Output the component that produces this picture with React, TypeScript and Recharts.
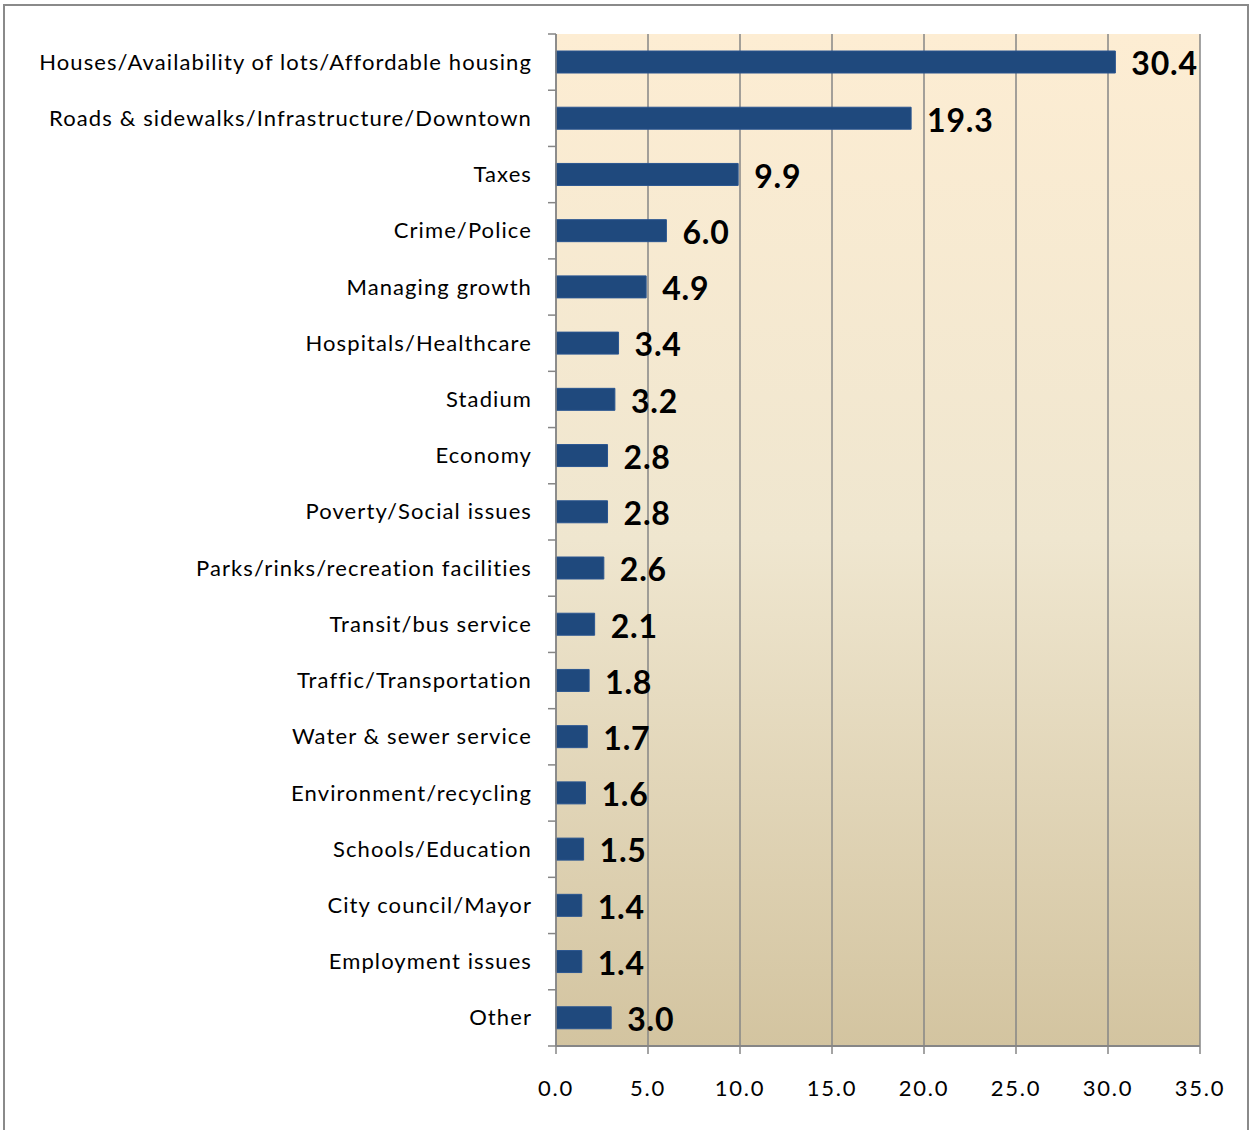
import React from 'react';
import { BarChart, Bar, XAxis, YAxis, CartesianGrid, LabelList } from 'recharts';

const categories = [
  'Houses/Availability of lots/Affordable housing',
  'Roads & sidewalks/Infrastructure/Downtown',
  'Taxes',
  'Crime/Police',
  'Managing growth',
  'Hospitals/Healthcare',
  'Stadium',
  'Economy',
  'Poverty/Social issues',
  'Parks/rinks/recreation facilities',
  'Transit/bus service',
  'Traffic/Transportation',
  'Water & sewer service',
  'Environment/recycling',
  'Schools/Education',
  'City council/Mayor',
  'Employment issues',
  'Other',
];

const values = [30.4, 19.3, 9.9, 6.0, 4.9, 3.4, 3.2, 2.8, 2.8, 2.6, 2.1, 1.8, 1.7, 1.6, 1.5, 1.4, 1.4, 3.0];

const xTicks = [0, 5, 10, 15, 20, 25, 30, 35];

const data = categories.map((name, i) => ({ name, value: values[i] }));

const W = 1253;
const H = 1130;
const PLOT_TOP = 34;
const PLOT_BOTTOM = 1046;
const BAND = (PLOT_BOTTOM - PLOT_TOP) / categories.length;
const GRAY = '#868686';
const FONT = 'Lato, "Open Sans", sans-serif';

// Excel-style: tick marks sit on category boundaries, label in the middle
const CategoryTick = (props: any) => {
  const { x, y, payload, index } = props;
  return (
    <g>
      <line x1={556 - 8} x2={556} y1={y - BAND / 2} y2={y - BAND / 2} stroke={GRAY} strokeWidth={1.5} />
      {index === categories.length - 1 && (
        <line x1={556 - 8} x2={556} y1={y + BAND / 2} y2={y + BAND / 2} stroke={GRAY} strokeWidth={1.5} />
      )}
      <text
        x={x - 16}
        y={y - 1}
        textAnchor="end"
        dominantBaseline="central"
        fontSize={22}
        letterSpacing={1.1}
        fontFamily={FONT}
        fill="#000"
      >
        {payload.value}
      </text>
    </g>
  );
};

export default function App() {
  return (
    <div style={{ position: 'fixed', left: 0, top: 0, width: W, height: H, background: '#fff', overflow: 'hidden' }}>
      <div
        style={{
          position: 'absolute',
          left: 3,
          top: 4,
          width: 1246,
          height: 1140,
          border: '2px solid #8a8a8a',
          boxSizing: 'border-box',
        }}
      />
      <div style={{ position: 'absolute', left: 0, top: 0 }}>
        <BarChart
          width={W}
          height={H}
          data={data}
          layout="vertical"
          margin={{ top: PLOT_TOP, right: 53, bottom: 24, left: 0 }}
          barSize={22}
        >
          <defs>
            <linearGradient id="bgGrad" x1="0" y1="0" x2="0" y2="1">
              <stop offset="0%" stopColor="#FDEDD3" />
              <stop offset="50%" stopColor="#EFE6CF" />
              <stop offset="100%" stopColor="#D3C4A0" />
            </linearGradient>
          </defs>
          <CartesianGrid fill="url(#bgGrad)" horizontal={false} stroke={GRAY} strokeWidth={1.5} />
          <XAxis
            type="number"
            domain={[0, 35]}
            ticks={xTicks}
            height={60}
            tickFormatter={(v: number) => v.toFixed(1)}
            tickSize={8}
            tickMargin={26}
            axisLine={{ stroke: GRAY, strokeWidth: 2 }}
            tickLine={{ stroke: GRAY, strokeWidth: 1.5 }}
            tick={{ fill: '#000', fontSize: 22, fontFamily: FONT, letterSpacing: 1.8 }}
          />
          <YAxis
            type="category"
            dataKey="name"
            width={556}
            interval={0}
            tickLine={false}
            axisLine={{ stroke: GRAY, strokeWidth: 1.5 }}
            tick={<CategoryTick />}
          />
          <Bar dataKey="value" fill="#1F497D" stroke="#2A5590" strokeWidth={1} isAnimationActive={false}>
            <LabelList
              dataKey="value"
              position="right"
              offset={16}
              dy={2}
              formatter={(v: any) => Number(v).toFixed(1)}
              style={{ fill: '#000', fontSize: 32, fontWeight: 'bold', fontFamily: FONT, letterSpacing: 0.8 }}
            />
          </Bar>
        </BarChart>
      </div>
    </div>
  );
}
